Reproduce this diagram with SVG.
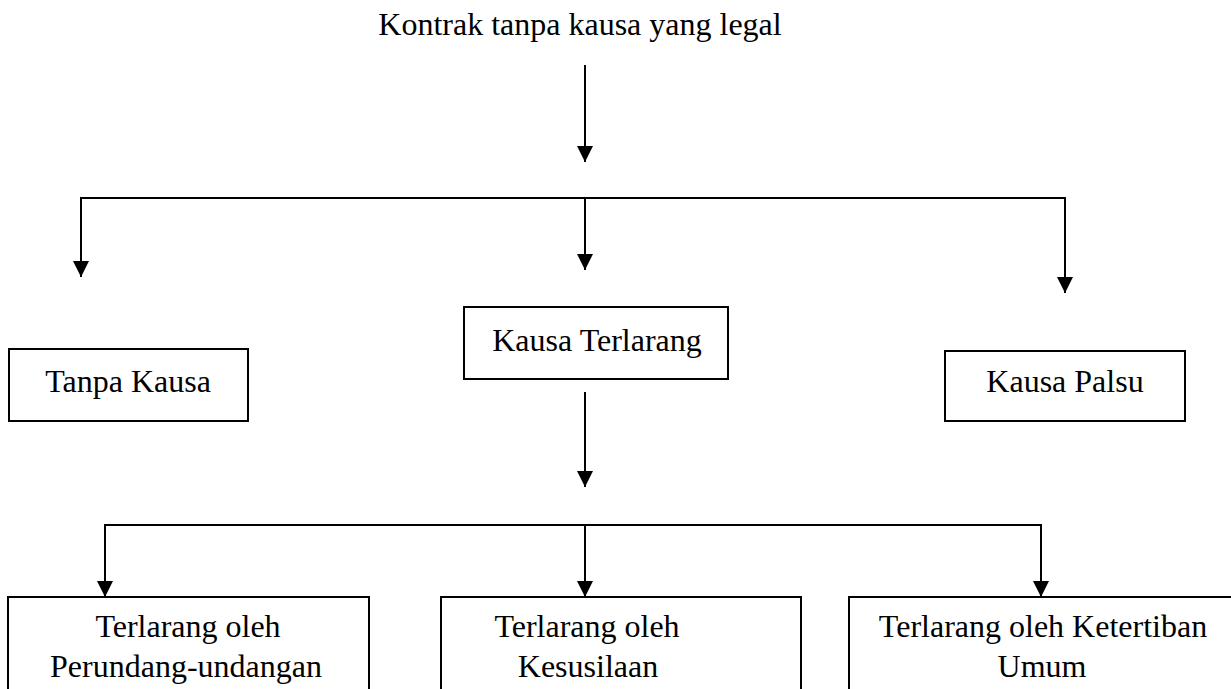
<svg xmlns="http://www.w3.org/2000/svg" width="1231" height="689" viewBox="0 0 1231 689">
<style>
.box{fill:#fff;stroke:#000;stroke-width:2}
.t{font-family:"Liberation Serif","Times New Roman",serif;font-size:32px;fill:#000;text-anchor:middle}
.c{fill:none;stroke:#000;stroke-width:2}
</style>
<defs>
<marker id="ah" markerUnits="userSpaceOnUse" markerWidth="16" markerHeight="16" viewBox="0 0 16 16" refX="16" refY="8" orient="auto">
<path d="M0,0 L16,8 L0,16 z" fill="#000"/>
</marker>
</defs>
<rect width="1231" height="689" fill="#fff"/>
<g id="connectors">
<line class="c" x1="585" y1="65" x2="585" y2="162" marker-end="url(#ah)"/>
<polyline class="c" points="81,277 81,198 1065,198"/>
<line class="c" x1="81" y1="260" x2="81" y2="277" marker-end="url(#ah)"/>
<line class="c" x1="585" y1="198" x2="585" y2="270" marker-end="url(#ah)"/>
<line class="c" x1="1065" y1="197" x2="1065" y2="293" marker-end="url(#ah)"/>
<line class="c" x1="585" y1="392" x2="585" y2="487" marker-end="url(#ah)"/>
<polyline class="c" points="105,597 105,525 1041,525 1041,560"/>
<line class="c" x1="105" y1="560" x2="105" y2="597" marker-end="url(#ah)"/>
<line class="c" x1="585" y1="525" x2="585" y2="597" marker-end="url(#ah)"/>
<line class="c" x1="1041" y1="524" x2="1041" y2="597" marker-end="url(#ah)"/>
</g>
<g id="title">
<text class="t" x="580" y="35">Kontrak tanpa kausa yang legal</text>
</g>
<g id="tanpa-kausa">
<rect class="box" x="9" y="349" width="239" height="72"/>
<text class="t" x="128" y="392">Tanpa Kausa</text>
</g>
<g id="kausa-terlarang">
<rect class="box" x="464" y="307" width="264" height="72"/>
<text class="t" x="597" y="351">Kausa Terlarang</text>
</g>
<g id="kausa-palsu">
<rect class="box" x="945" y="351" width="240" height="70"/>
<text class="t" x="1065" y="392">Kausa Palsu</text>
</g>
<g id="perundang">
<rect class="box" x="8" y="597" width="361" height="110"/>
<text class="t" x="188" y="637">Terlarang oleh</text>
<text class="t" x="186" y="677">Perundang-undangan</text>
</g>
<g id="kesusilaan">
<rect class="box" x="441" y="597" width="360" height="110"/>
<text class="t" x="587" y="637">Terlarang oleh</text>
<text class="t" x="588" y="677">Kesusilaan</text>
</g>
<g id="ketertiban">
<rect class="box" x="849" y="597" width="400" height="110"/>
<text class="t" x="1043" y="637">Terlarang oleh Ketertiban</text>
<text class="t" x="1042" y="677">Umum</text>
</g>
</svg>
